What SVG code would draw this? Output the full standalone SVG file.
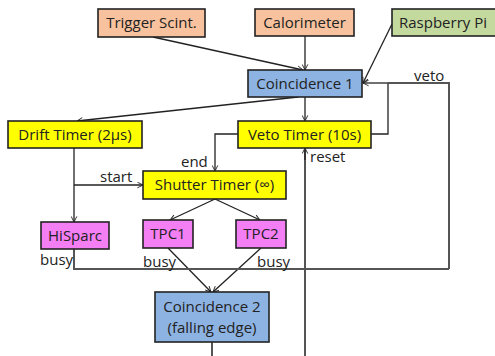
<svg xmlns="http://www.w3.org/2000/svg" width="495" height="356" viewBox="0 0 495 356">
  <defs>
    <marker id="arr" viewBox="0 0 10 10" refX="9" refY="5" markerWidth="7" markerHeight="7" orient="auto-start-reverse" markerUnits="userSpaceOnUse">
      <path d="M1,1 L9,5 L1,9" fill="none" stroke="#222" stroke-width="1.3"/>
    </marker>
    <style>
      .box { stroke: #222; stroke-width: 1.6; }
      .src { fill: #F8C29E; }
      .rpi { fill: #C4D99E; }
      .coin { fill: #8DB3E2; }
      .timer { fill: #FFFF00; }
      .det { fill: #F47EF4; }
      .lbl { font-family: "Open Sans", "Liberation Sans", sans-serif; font-size: 15px; fill: #222; text-anchor: middle; }
      .note { font-family: "Open Sans", "Liberation Sans", sans-serif; font-size: 15px; fill: #222; }
      .wire { fill: none; stroke: #222; stroke-width: 1.3; }
      .bus { fill: none; stroke: #555; stroke-width: 2; }
    </style>
  </defs>

  <!-- connectors -->
  <g id="connectors">
    <line class="wire" x1="153" y1="37" x2="303" y2="70" marker-end="url(#arr)"/>
    <line class="wire" x1="305" y1="36" x2="305" y2="70" marker-end="url(#arr)"/>
    <line class="wire" x1="392" y1="24" x2="363" y2="83" marker-end="url(#arr)"/>
    <line class="wire" x1="298" y1="97" x2="77" y2="121" marker-end="url(#arr)"/>
    <line class="wire" x1="305" y1="97" x2="305" y2="121" marker-end="url(#arr)"/>
    <!-- veto timer feedback into coincidence 1 -->
    <polyline class="wire" points="371,134 388,134 388,83"/>
    <polyline class="bus" points="449,269 449,83 388,83"/>
    <line class="wire" x1="388" y1="83" x2="363" y2="83" marker-end="url(#arr)"/>
    <!-- veto timer end -> shutter timer -->
    <polyline class="wire" points="238,134 215,134 215,171" marker-end="url(#arr)"/>
    <!-- drift timer -> hisparc and shutter start -->
    <line class="wire" x1="74" y1="148" x2="74" y2="222" marker-end="url(#arr)"/>
    <line class="wire" x1="74" y1="185" x2="143" y2="185" marker-end="url(#arr)"/>
    <!-- shutter -> tpcs -->
    <line class="wire" x1="215" y1="199" x2="170" y2="220" marker-end="url(#arr)"/>
    <line class="wire" x1="215" y1="199" x2="260" y2="220" marker-end="url(#arr)"/>
    <!-- tpc busy -> coincidence 2 -->
    <line class="wire" x1="168" y1="248" x2="211" y2="292" marker-end="url(#arr)"/>
    <line class="wire" x1="261" y1="248" x2="213" y2="292" marker-end="url(#arr)"/>
    <!-- hisparc busy -> veto bus -->
    <polyline class="bus" points="74,249 74,269 449,269"/>
    <!-- coincidence 2 output -->
    <line class="bus" x1="212" y1="342" x2="212" y2="356"/>
    <!-- reset line -->
    <line class="bus" x1="305" y1="356" x2="305" y2="150"/>
    <line class="wire" x1="305" y1="160" x2="305" y2="148" marker-end="url(#arr)"/>
    <text class="note" x="414" y="81">veto</text>
    <text class="note" x="181" y="167">end</text>
    <text class="note" x="310" y="162">reset</text>
    <text class="note" x="100" y="182">start</text>
    <text class="note" x="40" y="265">busy</text>
    <text class="note" x="143" y="267">busy</text>
    <text class="note" x="257" y="267">busy</text>
  </g>

  <g id="trigger-scint">
    <rect class="box src" x="98" y="9" width="107" height="28"/>
    <text class="lbl" x="151.5" y="28">Trigger Scint.</text>
  </g>
  <g id="calorimeter">
    <rect class="box src" x="255" y="9" width="99" height="27"/>
    <text class="lbl" x="304.5" y="28">Calorimeter</text>
  </g>
  <g id="raspberry-pi">
    <rect class="box rpi" x="392" y="9" width="104" height="27"/>
    <text class="lbl" x="443" y="28">Raspberry Pi</text>
  </g>
  <g id="coincidence-1">
    <rect class="box coin" x="248" y="70" width="114" height="27"/>
    <text class="lbl" x="305" y="89">Coincidence 1</text>
  </g>
  <g id="drift-timer">
    <rect class="box timer" x="8" y="121" width="134" height="27"/>
    <text class="lbl" x="75" y="140">Drift Timer (2µs)</text>
  </g>
  <g id="veto-timer">
    <rect class="box timer" x="238" y="121" width="133" height="27"/>
    <text class="lbl" x="304.5" y="140">Veto Timer (10s)</text>
  </g>
  <g id="shutter-timer">
    <rect class="box timer" x="143" y="171" width="143" height="28"/>
    <text class="lbl" x="214.5" y="190">Shutter Timer (∞)</text>
  </g>
  <g id="hisparc">
    <rect class="box det" x="41" y="222" width="68" height="27"/>
    <text class="lbl" x="75" y="241">HiSparc</text>
  </g>
  <g id="tpc1">
    <rect class="box det" x="143" y="220" width="50" height="28"/>
    <text class="lbl" x="168" y="239">TPC1</text>
  </g>
  <g id="tpc2">
    <rect class="box det" x="236" y="220" width="50" height="28"/>
    <text class="lbl" x="261" y="239">TPC2</text>
  </g>
  <g id="coincidence-2">
    <rect class="box coin" x="155" y="292" width="114" height="50"/>
    <text class="lbl" x="212" y="312">Coincidence 2</text>
    <text class="lbl" x="212" y="333">(falling edge)</text>
  </g>
</svg>
